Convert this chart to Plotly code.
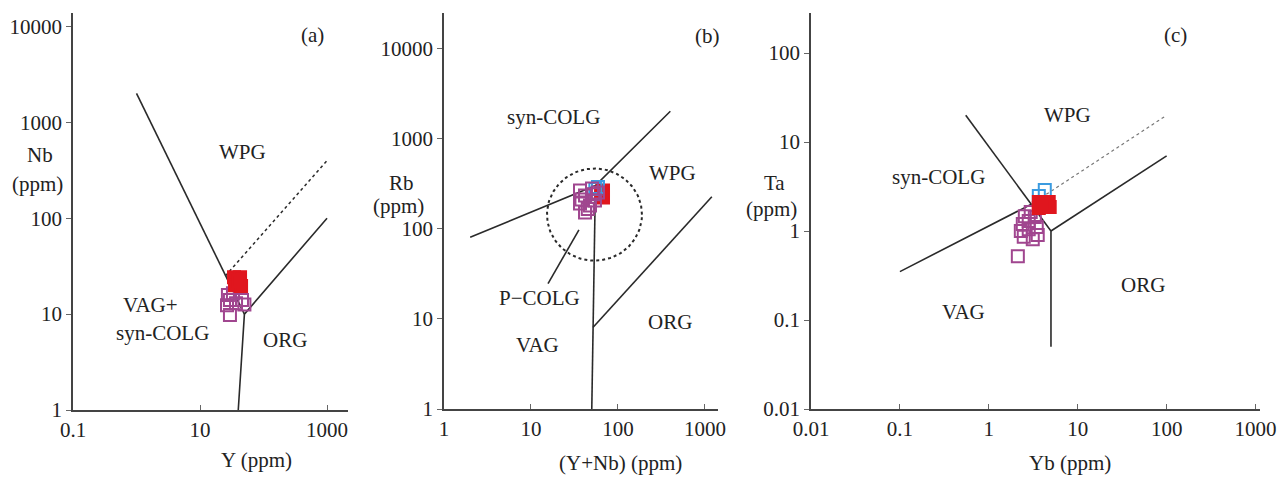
import numpy as np
import plotly.graph_objects as go

W, H = 1277, 477
FONT = "Liberation Serif"
LINE = "#2a2a2a"
PURPLE = "#a0468f"
RED = "#e0161e"
BLUE = "#3b9be0"

# ---------------- Panel (a): Nb vs Y ----------------
a_purple_Y = [29.6, 29.6, 45.8, 26.6, 50.0, 36.9, 27.5, 33.0]
a_purple_Nb = [9.8, 14.0, 14.0, 12.4, 12.6, 13.0, 15.8, 16.5]
a_red_Y = [34.3, 42.7, 35.5, 44.3, 39.8]
a_red_Nb = [24.3, 24.3, 20.0, 19.6, 22.1]

a_b1_x = [1, 50]; a_b1_y = [2000, 10]
a_b2_x = [40, 50, 1000]; a_b2_y = [1, 10, 100]
a_dot_x = [25, 1000]; a_dot_y = [25, 400]

# ---------------- Panel (b): Rb vs Y+Nb ----------------
b_purple_x = [36.6, 41.8, 50.3, 58.9, 36.6, 47.7, 41.8, 54.4, 45.0, 38.0, 52.0]
b_purple_y = [264, 233, 278, 251, 190, 180, 151, 205, 165, 210, 240]
b_blue_x = [58.9, 55.0]
b_blue_y = [290, 275]
b_red_x = [67.3, 67.3, 64.0]
b_red_y = [264, 221, 245]

b_b1_x = [2, 55, 400]; b_b1_y = [80, 300, 2000]
b_b2_x = [55, 51.5, 50]; b_b2_y = [300, 8, 1]
b_b3_x = [51.5, 1200]; b_b3_y = [8, 225]
b_ptr_x = [35.6, 15.7]; b_ptr_y = [97, 24.5]
b_circ_center = (53.7, 143.0)
b_circ_radius = (0.546, 0.511)  # decades in x and y

# ---------------- Panel (c): Ta vs Yb ----------------
c_purple_x = [2.54, 2.96, 2.41, 2.81, 3.29, 2.29, 2.81, 3.46, 2.47, 3.12, 3.55, 2.12]
c_purple_y = [1.47, 1.64, 1.20, 1.30, 1.44, 1.00, 1.05, 1.11, 0.86, 0.81, 0.90, 0.52]
c_blue_x = [4.26, 3.65]
c_blue_y = [2.89, 2.47]
c_red_x = [3.65, 4.72, 3.65, 4.84, 4.15]
c_red_y = [2.12, 2.12, 1.81, 1.86, 1.96]

c_b1_x = [0.1, 3, 5, 5]; c_b1_y = [0.35, 2, 1, 0.05]
c_b2_x = [0.55, 3]; c_b2_y = [20, 2]
c_b3_x = [5, 100]; c_b3_y = [1, 7]
c_dot_x = [3, 100]; c_dot_y = [2, 20]


def P(px, py):
    return px / W, 1 - py / H


fig = go.Figure()


def line(x, y, ax, dash="solid", color=LINE, width=1.6):
    fig.add_trace(go.Scatter(x=x, y=y, mode="lines", xaxis=ax[0], yaxis=ax[1],
                             line=dict(color=color, width=width, dash=dash),
                             showlegend=False, hoverinfo="skip"))


def pts(x, y, ax, color, filled):
    fig.add_trace(go.Scatter(
        x=x, y=y, mode="markers", xaxis=ax[0], yaxis=ax[1], showlegend=False,
        marker=dict(symbol="square" if filled else "square-open", size=12,
                    color=color, line=dict(color=color, width=2))))


A = ("x", "y"); B = ("x2", "y2"); C = ("x3", "y3")

line(a_b1_x, a_b1_y, A)
line(a_b2_x, a_b2_y, A)
line(a_dot_x, a_dot_y, A, dash="dot", width=1.5)
pts(a_purple_Y, a_purple_Nb, A, PURPLE, False)
pts(a_red_Y, a_red_Nb, A, RED, True)

line(b_b1_x, b_b1_y, B)
line(b_b2_x, b_b2_y, B)
line(b_b3_x, b_b3_y, B)
line(b_ptr_x, b_ptr_y, B)
t = np.linspace(0, 2 * np.pi, 200)
cx = 10 ** (np.log10(b_circ_center[0]) + b_circ_radius[0] * np.cos(t))
cy = 10 ** (np.log10(b_circ_center[1]) + b_circ_radius[1] * np.sin(t))
line(cx, cy, B, dash="dot", width=2)
pts(b_red_x, b_red_y, B, RED, True)
pts(b_blue_x, b_blue_y, B, BLUE, False)
pts(b_purple_x, b_purple_y, B, PURPLE, False)

line(c_b1_x, c_b1_y, C)
line(c_b2_x, c_b2_y, C)
line(c_b3_x, c_b3_y, C)
line(c_dot_x, c_dot_y, C, dash="dot", color="#777777", width=1.2)
pts(c_purple_x, c_purple_y, C, PURPLE, False)
pts(c_blue_x, c_blue_y, C, BLUE, False)
pts(c_red_x, c_red_y, C, RED, True)

tickfont = dict(family=FONT, size=21, color="#222")


def xax(px0, px1, rng, vals, labels):
    return dict(type="log", domain=[px0 / W, px1 / W], range=rng, tickvals=vals, ticktext=labels,
                showgrid=False, zeroline=False, showline=True, linecolor="#444", linewidth=1.6,
                ticks="inside", ticklen=5, tickcolor="#666", tickwidth=1.2, tickfont=tickfont,
                automargin=False, fixedrange=True)


def yax(py0, py1, rng, vals, labels, anchor):
    return dict(type="log", domain=[1 - py1 / H, 1 - py0 / H], range=rng, tickvals=vals, ticktext=labels,
                showgrid=False, zeroline=False, showline=True, linecolor="#444", linewidth=1.6,
                ticks="outside", ticklen=5, tickcolor="#666", tickwidth=1.2, tickfont=tickfont,
                anchor=anchor, automargin=False, fixedrange=True)


fig.update_layout(
    width=W, height=H, margin=dict(l=0, r=0, t=0, b=0, autoexpand=False),
    paper_bgcolor="white", plot_bgcolor="white",
    xaxis=dict(xax(73, 348, [-1, 3.33], [0.1, 10, 1000], ["0.1", "10", "1000"]), anchor="y"),
    yaxis=yax(13, 410, [0, 4.14], [1, 10, 100, 1000, 10000], ["1", "10", "100", "1000", "10000"], "x"),
    xaxis2=dict(xax(444, 718, [0, 3.15], [1, 10, 100, 1000], ["1", "10", "100", "1000"]), anchor="y2"),
    yaxis2=yax(13, 409, [0, 4.39], [1, 10, 100, 1000, 10000], ["1", "10", "100", "1000", "10000"], "x2"),
    xaxis3=dict(xax(811, 1260, [-2, 3.05], [0.01, 0.1, 1, 10, 100, 1000],
                    ["0.01", "0.1", "1", "10", "100", "1000"]), anchor="y3"),
    yaxis3=yax(13, 409, [-2, 2.45], [0.01, 0.1, 1, 10, 100], ["0.01", "0.1", "1", "10", "100"], "x3"),
)

labels = [
    ("(a)", 312, 35), ("WPG", 242, 152), ("VAG+", 150, 305), ("syn-COLG", 162, 333),
    ("ORG", 285, 340), ("Nb", 40, 155), ("(ppm)", 37, 184), ("Y (ppm)", 256, 460),
    ("(b)", 707, 36), ("syn-COLG", 553, 117), ("WPG", 672, 173), ("P\u2212COLG", 539, 298),
    ("ORG", 670, 322), ("VAG", 537, 345), ("Rb", 401, 183), ("(ppm)", 398, 206),
    ("(Y+Nb) (ppm)", 620, 463),
    ("(c)", 1175, 35), ("WPG", 1067, 115), ("syn-COLG", 938, 177), ("VAG", 963, 312),
    ("ORG", 1143, 285), ("Ta", 774, 183), ("(ppm)", 771, 209), ("Yb (ppm)", 1070, 463),
]
for txt, px, py in labels:
    x, y = P(px, py)
    fig.add_annotation(x=x, y=y, xref="paper", yref="paper", text=txt, showarrow=False,
                       xanchor="center", yanchor="middle",
                       font=dict(family=FONT, size=21, color="#222"))

fig.write_html("out.html")
